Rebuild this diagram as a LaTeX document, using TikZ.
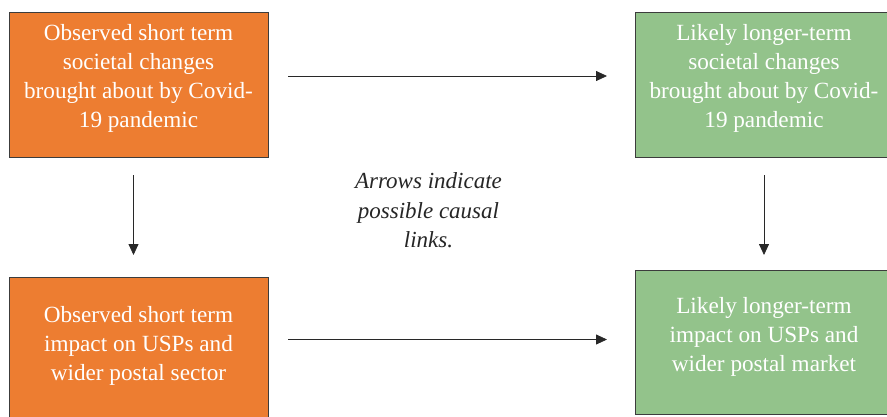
\documentclass[tikz,border=0pt]{standalone}
\usepackage{fontspec}
\setmainfont{Liberation Serif}
\usetikzlibrary{arrows.meta}
\definecolor{boxorange}{RGB}{237,125,49}
\definecolor{boxgreen}{RGB}{147,195,139}
\definecolor{edgegray}{RGB}{60,60,60}
\definecolor{linegray}{RGB}{40,40,40}
\tikzset{
  box/.style={draw=edgegray, line width=0.9pt, rectangle, inner sep=0pt, outer sep=0pt},
  boxtext/.style={text=white, align=center, font=\fontsize{23.2}{29}\selectfont, inner sep=0pt},
  notetext/.style={text=black!85, align=center, font=\fontsize{23}{29.5}\selectfont\itshape, inner sep=0pt},
  conn/.style={draw=linegray, line width=0.8pt, -{Triangle[length=11pt,width=10pt]}}
}
\begin{document}
\begin{tikzpicture}[x=1pt,y=-1pt]
\useasboundingbox (0,0) rectangle (887,416);
\clip (0,0) rectangle (887,416);
\fill[white] (0,0) rectangle (887,416);
% boxes
\node[box, fill=boxorange, minimum width=259pt, minimum height=145pt] (TL) at (138.5,84.5) {};
\node[box, fill=boxgreen, minimum width=258pt, minimum height=145pt] (TR) at (764,84.5) {};
\node[box, fill=boxorange, minimum width=259pt, minimum height=160pt] (BL) at (138.5,357) {};
\node[box, fill=boxgreen, minimum width=258pt, minimum height=144.5pt] (BR) at (764,342.25) {};
% texts
\node[boxtext] (TLt) at (138.5,78.5) {Observed short term\\societal changes\\brought about by Covid-\\19 pandemic};
\node[boxtext] (TRt) at (764,78.5) {Likely longer-term\\societal changes\\brought about by Covid-\\19 pandemic};
\node[boxtext] (BLt) at (138.5,345.5) {Observed short term\\impact on USPs and\\wider postal sector};
\node[boxtext] (BRt) at (764,336.5) {Likely longer-term\\impact on USPs and\\wider postal market};
\node[notetext] (note) at (428.5,210.5) {Arrows indicate\\possible causal\\links.};
% connector end points
\coordinate (h1s) at (288,76);
\coordinate (h1e) at (607,76);
\coordinate (h2s) at (288,339.5);
\coordinate (h2e) at (607,339.5);
\coordinate (v1s) at (133.5,175);
\coordinate (v1e) at (133.5,255);
\coordinate (v2s) at (764,175);
\coordinate (v2e) at (764,255);
\draw[conn] (h1s) -- (h1e);
\draw[conn] (h2s) -- (h2e);
\draw[conn] (v1s) -- (v1e);
\draw[conn] (v2s) -- (v2e);
\end{tikzpicture}
\end{document}
